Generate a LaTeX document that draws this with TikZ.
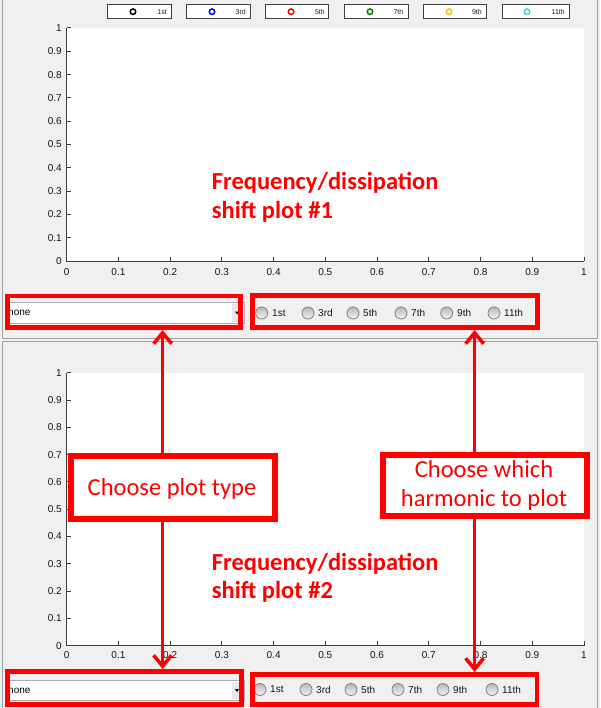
\documentclass[tikz,border=0pt]{standalone}
\usepackage{fontspec}
\setmainfont{Carlito}
\newfontfamily\arialf{Liberation Sans}
\usetikzlibrary{arrows.meta}
\definecolor{bg}{HTML}{F0F0F0}
\definecolor{panelgray}{HTML}{A0A0A0}
\definecolor{axcol}{HTML}{3C3C3C}
\definecolor{labcol}{HTML}{141414}
\definecolor{redc}{HTML}{FF0000}
\definecolor{legk}{HTML}{000000}
\definecolor{legb}{HTML}{0000FF}
\definecolor{legr}{HTML}{FF0000}
\definecolor{legg}{HTML}{008000}
\definecolor{legy}{HTML}{F2C500}
\definecolor{legc}{HTML}{3CDCD0}
\definecolor{ddborder}{HTML}{ABADB3}
\tikzset{
  axisline/.style={draw=axcol, line width=1pt},
  ticklab/.style={font=\arialf\fontsize{10}{12}\selectfont, text=labcol, inner sep=0pt},
  legbox/.style={draw=black!75, fill=white, line width=1.2pt, rectangle, inner sep=0pt, minimum height=14.1pt},
  legmark/.style={circle, line width=1.5pt, minimum size=5.5pt, inner sep=0pt},
  leglab/.style={font=\arialf\fontsize{7}{8}\selectfont, text=black!90, inner sep=0pt, anchor=east},
  radio/.style={circle, draw=black!50, line width=0.8pt, top color=black!28, bottom color=black!4, minimum size=12pt, inner sep=0pt},
  radiolab/.style={font=\arialf\fontsize{10}{12}\selectfont, text=labcol, inner sep=0pt, anchor=west},
  ddfield/.style={rectangle, draw=ddborder, fill=white, line width=0.8pt, inner sep=0pt},
  ctrlbox/.style={rectangle, draw=redc, line width=4.8pt, inner sep=0pt},
  callout/.style={rectangle, draw=redc, fill=white, line width=6pt, inner sep=0pt, minimum width=204pt},
  callouttext/.style={font=\fontsize{24.5}{29}\selectfont, text=redc, inner sep=0pt, anchor=base},
  plottitle/.style={font=\bfseries\fontsize{24.5}{29}\selectfont, text=redc, inner sep=0pt, anchor=base west},
  arr/.style={draw=redc, line width=3.5pt, -{Straight Barb[length=11pt, width=18pt]}},
}
\begin{document}
\begin{tikzpicture}[x=1pt,y=-1pt]
\useasboundingbox (0,0) rectangle (600,708);
\fill[bg] (0,0) rectangle (600,708);
% panels
\draw[panelgray, line width=1pt] (2.5,-5) -- (2.5,338.5) -- (597.5,338.5) -- (597.5,-5);
\draw[panelgray, line width=1pt] (2.5,712) -- (2.5,341.5) -- (597.5,341.5) -- (597.5,712);
% plot areas
\fill[white] (66.7,28) rectangle (584,261);
\fill[white] (66.7,372.7) rectangle (584,645.7);
% top axes
\draw[axisline] (66.7,28) -- (66.7,261) -- (584,261);
\foreach \i/\t [evaluate=\i as \yy using 261-\i*23.3, evaluate=\i as \xx using 66.7+\i*51.73] in {0/0,1/0.1,2/0.2,3/0.3,4/0.4,5/0.5,6/0.6,7/0.7,8/0.8,9/0.9,10/1}{
  \draw[axisline] (66.7,\yy) -- (71,\yy);
  \node[ticklab, anchor=east] (tya\i) at (62,\yy) {\t};
  \draw[axisline] (\xx,261) -- (\xx,256.5);
  \node[ticklab] (txa\i) at (\xx,271.7) {\t};
}
% bottom axes
\draw[axisline] (66.7,372.7) -- (66.7,645.7) -- (584,645.7);
\foreach \i/\t [evaluate=\i as \yy using 645.7-\i*27.3, evaluate=\i as \xx using 66.7+\i*51.73] in {0/0,1/0.1,2/0.2,3/0.3,4/0.4,5/0.5,6/0.6,7/0.7,8/0.8,9/0.9,10/1}{
  \draw[axisline] (66.7,\yy) -- (71,\yy);
  \node[ticklab, anchor=east] (tyb\i) at (62,\yy) {\t};
  \draw[axisline] (\xx,645.7) -- (\xx,641.2);
  \node[ticklab] (txb\i) at (\xx,655) {\t};
}
% legend
\foreach \n/\x/\w/\cx/\c/\lr/\t in {a/139.5/63.8pt/133/legk/167/1st, b/218.5/63.8pt/212/legb/246/3rd, c/297/62.8pt/291/legr/325/5th, d/376.5/63.8pt/370/legg/403.5/7th, e/455/62.8pt/449/legy/482/9th, f/536/66.8pt/527/legc/565/11th}{
  \node[legbox, minimum width=\w] (leg\n) at (\x,11.7) {};
  \node[legmark, draw=\c] (legm\n) at (\cx,11.7) {};
  \node[leglab] (legl\n) at (\lr,11.7) {\t};
}
% dropdowns
\node[ddfield, minimum width=238pt, minimum height=21pt] (dd1f) at (125.5,313) {};
\fill[black!9] (232,304) rectangle (241.5,322);
\fill[black] (235,311.5) -- (239,311.5) -- (237,314.5) -- cycle;
\node[ticklab, anchor=west, text=black] (dd1t) at (8,313) {none};
\node[ddfield, minimum width=238pt, minimum height=20pt] (dd2f) at (125.5,690.5) {};
\fill[black!9] (232,682) rectangle (241.5,699);
\fill[black] (235,689) -- (239,689) -- (237,692) -- cycle;
\node[ticklab, anchor=west, text=black] (dd2t) at (8,690.5) {none};
% radio buttons
\foreach \n/\cx/\lx/\t in {a/261.7/272/1st, b/308/318/3rd, c/353/363/5th, d/401/411/7th, e/446.7/457/9th, f/494/504/11th}{
  \node[radio] (ra\n) at (\cx,313) {};
  \node[radiolab] (ral\n) at (\lx,313) {\t};
}
\foreach \n/\cx/\lx/\t in {a/260/270/1st, b/306/316/3rd, c/351/361/5th, d/398/408/7th, e/443/453/9th, f/492/502/11th}{
  \node[radio] (rb\n) at (\cx,689.5) {};
  \node[radiolab] (rbl\n) at (\lx,689.5) {\t};
}
% red boxes round the controls
\node[ctrlbox, minimum width=233.5pt, minimum height=31.7pt] (dd1) at (123.85,311.75) {};
\node[ctrlbox, minimum width=285.2pt, minimum height=31.9pt] (rb1) at (395,311.65) {};
\node[ctrlbox, minimum width=234.5pt, minimum height=33.2pt] (dd2) at (124.35,688) {};
\node[ctrlbox, minimum width=284.5pt, minimum height=30.2pt] (rb2) at (394.65,689.5) {};
% plot titles
\node[plottitle] (t1a) at (211.7,190) {Frequency/dissipation};
\node[plottitle] (t1b) at (211.7,218.3) {shift plot \#1};
\node[plottitle] (t2a) at (211.7,570) {Frequency/dissipation};
\node[plottitle] (t2b) at (211.7,598.3) {shift plot \#2};
% callouts
\node[callout, minimum height=63pt] (cpt) at (172.7,487.8) {};
\node[callout, minimum height=61.6pt] (chh) at (485,485.5) {};
\node[callouttext] (cptt) at (172,495) {Choose plot type};
\node[callouttext] (chht1) at (484,477) {Choose which};
\node[callouttext] (chht2) at (484,506.7) {harmonic to plot};
% arrows
\coordinate (lx) at (162.6,0);
\coordinate (rx) at (474.6,0);
\draw[arr] (cpt.north -| lx) -- (dd1.south -| lx);
\draw[arr] (cpt.south -| lx) -- (dd2.north -| lx);
\draw[arr] (chh.north -| rx) -- (rb1.south -| rx);
\draw[arr] (chh.south -| rx) -- (rb2.north -| rx);
\end{tikzpicture}
\end{document}
